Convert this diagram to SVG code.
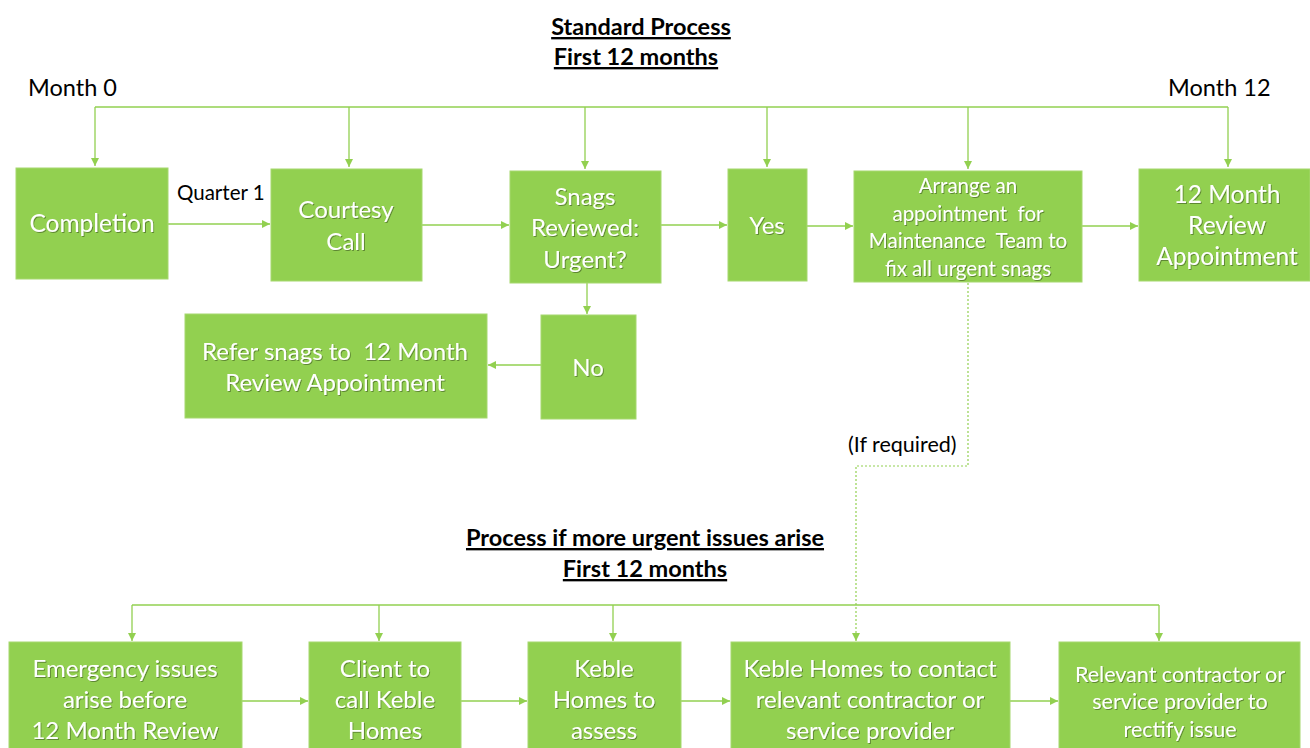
<svg xmlns="http://www.w3.org/2000/svg" width="1310" height="748" viewBox="0 0 1310 748">
<defs>
<marker id="ah" viewBox="0 0 10 10" refX="10" refY="5" markerWidth="8" markerHeight="8" markerUnits="userSpaceOnUse" orient="auto"><path d="M0,0 L10,5 L0,10 z" fill="#92D050"/></marker>
<filter id="sh" x="-10%" y="-10%" width="120%" height="130%"><feDropShadow dx="1" dy="1" stdDeviation="0.6" flood-color="#000" flood-opacity="0.35"/></filter>
</defs>
<style>
.box{fill:#92D050;stroke:#a6d86f;stroke-width:1}
.t{font-family:Lato,"Open Sans",sans-serif;fill:#fff;text-anchor:middle;filter:url(#sh)}
.lbl{font-family:Lato,"Open Sans",sans-serif;fill:#000}
.title{font-family:Lato,"Open Sans",sans-serif;font-weight:bold;font-size:23.5px;fill:#000;text-anchor:middle;text-decoration:underline}
.c{fill:none;stroke:#92D050;stroke-width:1.3}
.ca{fill:none;stroke:#92D050;stroke-width:1.3;marker-end:url(#ah)}
.cd{fill:none;stroke:#92D050;stroke-width:1.2;stroke-dasharray:2,2;marker-end:url(#ah)}
</style>
<rect width="1310" height="748" fill="#fff"/>
<g id="titles">
<text class="title" x="641" y="35">Standard Process</text>
<text class="title" x="636" y="65">First 12 months</text>
<text class="lbl" x="28" y="96" font-size="23.5">Month 0</text>
<text class="lbl" x="1168" y="96" font-size="23.5">Month 12</text>
<text class="lbl" x="177" y="200" font-size="20.5">Quarter 1</text>
<text class="lbl" x="848" y="452" font-size="21.5">(If required)</text>
<text class="title" x="645" y="546">Process if more urgent issues arise</text>
<text class="title" x="645" y="577">First 12 months</text>
</g>
<g id="connectors">
<path class="c" d="M95,107 L1228,107"/>
<path class="ca" d="M95,107 V166"/>
<path class="ca" d="M349,107 V167"/>
<path class="ca" d="M585,107 V169"/>
<path class="ca" d="M767,107 V167"/>
<path class="ca" d="M968,107 V169"/>
<path class="ca" d="M1228,107 V167"/>
<path class="ca" d="M168,224 H270"/>
<path class="ca" d="M422,225 H509"/>
<path class="ca" d="M661,225 H727"/>
<path class="ca" d="M807,226 H853"/>
<path class="ca" d="M1082,226 H1138"/>
<path class="ca" d="M587,283 V314"/>
<path class="ca" d="M541,365 H488"/>
<path class="cd" d="M968,283 V466 H856 V641"/>
<path class="c" d="M132,605 L1159,605"/>
<path class="ca" d="M132,605 V641"/>
<path class="ca" d="M379,605 V641"/>
<path class="ca" d="M613,605 V641"/>
<path class="ca" d="M1159,605 V641"/>
<path class="ca" d="M242,701 H308"/>
<path class="ca" d="M461,701 H527"/>
<path class="ca" d="M681,701 H730"/>
<path class="ca" d="M1010,701 H1058"/>
</g>
<g id="n-completion"><rect class="box" x="16" y="168" width="152" height="111"/><text class="t" x="92" y="232" font-size="24.5">Completion</text></g>
<g id="n-courtesy"><rect class="box" x="271" y="169" width="151" height="112"/><text class="t" x="346" y="218" font-size="24">Courtesy</text><text class="t" x="346" y="250" font-size="24">Call</text></g>
<g id="n-snags"><rect class="box" x="510" y="171" width="151" height="112"/><text class="t" x="585" y="205" font-size="24">Snags</text><text class="t" x="585" y="236" font-size="24">Reviewed:</text><text class="t" x="585" y="268" font-size="24">Urgent?</text></g>
<g id="n-yes"><rect class="box" x="728" y="169" width="79" height="112"/><text class="t" x="767" y="234" font-size="24">Yes</text></g>
<g id="n-arrange"><rect class="box" x="854" y="171" width="228" height="111"/><text class="t" x="968" y="193" font-size="20.5">Arrange an</text><text class="t" x="968" y="221" font-size="20.5" xml:space="preserve">appointment  for</text><text class="t" x="968" y="248" font-size="20.5" xml:space="preserve">Maintenance  Team to</text><text class="t" x="968" y="276" font-size="20.5">fix all urgent snags</text></g>
<g id="n-review"><rect class="box" x="1139" y="169" width="171" height="112"/><text class="t" x="1227" y="203" font-size="24.5">12 Month</text><text class="t" x="1227" y="234" font-size="24.5">Review</text><text class="t" x="1227" y="265" font-size="24.5">Appointment</text></g>
<g id="n-no"><rect class="box" x="541" y="315" width="95" height="104"/><text class="t" x="588" y="376" font-size="24">No</text></g>
<g id="n-refer"><rect class="box" x="185" y="314" width="302" height="104"/><text class="t" x="335" y="360" font-size="24" xml:space="preserve">Refer snags to  12 Month</text><text class="t" x="335" y="391" font-size="24">Review Appointment</text></g>
<g id="n-emergency"><rect class="box" x="9" y="642" width="233" height="110"/><text class="t" x="125" y="677" font-size="24">Emergency issues</text><text class="t" x="125" y="708" font-size="24">arise before</text><text class="t" x="125" y="739" font-size="24">12 Month Review</text></g>
<g id="n-client"><rect class="box" x="309" y="642" width="152" height="110"/><text class="t" x="385" y="677" font-size="24">Client to</text><text class="t" x="385" y="708" font-size="24">call Keble</text><text class="t" x="385" y="739" font-size="24">Homes</text></g>
<g id="n-assess"><rect class="box" x="528" y="642" width="153" height="110"/><text class="t" x="604" y="677" font-size="24">Keble</text><text class="t" x="604" y="708" font-size="24">Homes to</text><text class="t" x="604" y="739" font-size="24">assess</text></g>
<g id="n-contact"><rect class="box" x="731" y="642" width="279" height="110"/><text class="t" x="870" y="677" font-size="24">Keble Homes to contact</text><text class="t" x="870" y="708" font-size="24">relevant contractor or</text><text class="t" x="870" y="739" font-size="24">service provider</text></g>
<g id="n-relevant"><rect class="box" x="1059" y="642" width="241" height="110"/><text class="t" x="1180" y="682" font-size="21.5">Relevant contractor or</text><text class="t" x="1180" y="709" font-size="21.5">service provider to</text><text class="t" x="1180" y="737" font-size="21.5">rectify issue</text></g>
</svg>
